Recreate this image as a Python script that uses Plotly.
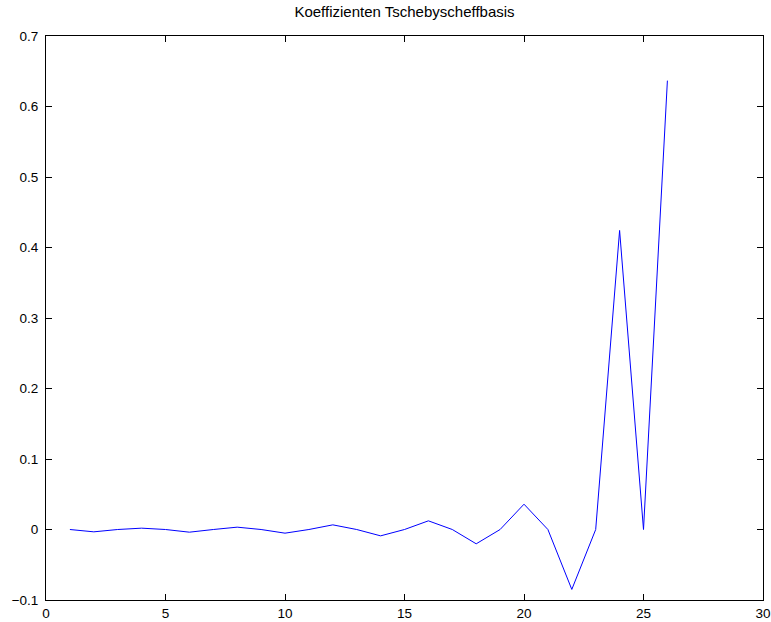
import plotly.graph_objects as go

# Chebyshev coefficient index and value
index = list(range(1, 27))
coefficients = [
    0.0, -0.0033, 0.0, 0.0019, 0.0, -0.0038, 0.0, 0.0033, 0.0, -0.0052,
    0.0, 0.0066, 0.0, -0.0090, 0.0, 0.0123, 0.0, -0.0203, 0.0, 0.0359,
    0.0, -0.0850, 0.0, 0.4242, 0.0, 0.6367,
]
x_ticks = [0, 5, 10, 15, 20, 25, 30]
y_ticks = [-0.1, 0, 0.1, 0.2, 0.3, 0.4, 0.5, 0.6, 0.7]
y_tick_text = ["\u22120.1", "0", "0.1", "0.2", "0.3", "0.4", "0.5", "0.6", "0.7"]

font_family = "Liberation Sans, Arial, Helvetica, sans-serif"

fig = go.Figure()
fig.add_trace(go.Scatter(
    x=index, y=coefficients, mode="lines",
    line=dict(color="#0000ff", width=1),
    hoverinfo="skip", showlegend=False,
))

axis_common = dict(
    showgrid=False, zeroline=False, automargin=False,
    showline=True, linecolor="black", linewidth=1, mirror="ticks",
    ticks="inside", ticklen=6, tickwidth=1, tickcolor="black",
    tickfont=dict(family=font_family, size=13.5, color="black"),
)

fig.update_xaxes(range=[0, 30], tickvals=x_ticks, ticklabelstandoff=1, **axis_common)
fig.update_yaxes(range=[-0.1, 0.7], tickvals=y_ticks, ticktext=y_tick_text,
                 ticklabelstandoff=4, **axis_common)

fig.update_layout(
    width=771, height=622,
    margin=dict(l=46, r=8, t=36, b=22, pad=0),
    paper_bgcolor="white", plot_bgcolor="white",
    title=dict(
        text="Koeffizienten Tschebyscheffbasis",
        font=dict(family=font_family, size=15, color="black"),
        x=0.5, xref="paper", xanchor="center",
        y=1 - 12 / 622, yref="container", yanchor="middle",
    ),
)

fig.write_html("out.html")
